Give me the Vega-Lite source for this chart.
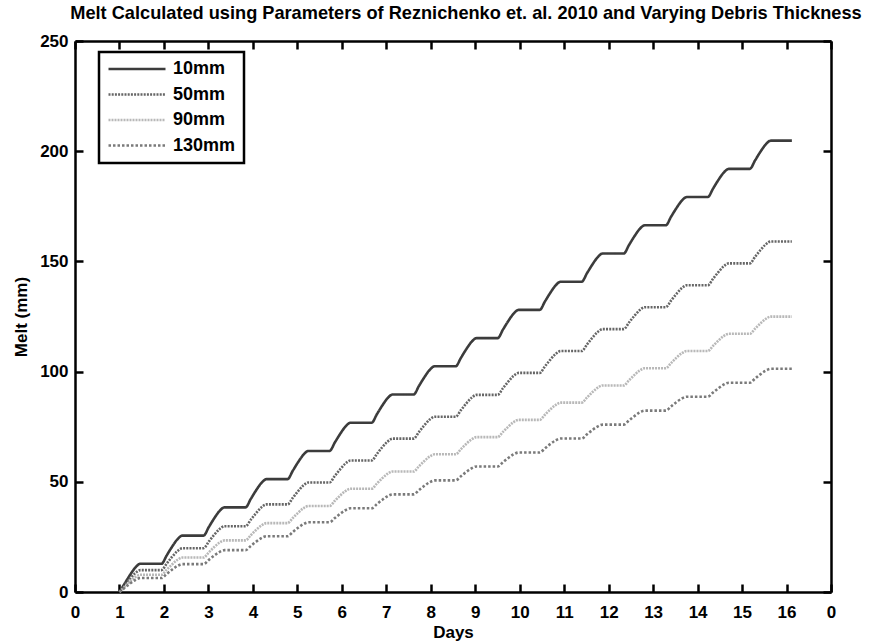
{
  "$schema": "https://vega.github.io/schema/vega-lite/v6.json",
  "width": 756,
  "height": 551,
  "autosize": {"type": "none"},
  "padding": {"left": 75, "top": 41, "right": 38, "bottom": 49},
  "background": "white",
  "title": {
    "text": "Melt Calculated using Parameters of Reznichenko et. al.  2010 and Varying Debris Thickness",
    "fontSize": 18.2,
    "font": "Liberation Sans",
    "fontWeight": "bold",
    "anchor": "middle",
    "dx": 13,
    "offset": 9,
    "color": "black"
  },
  "datasets": {
    "melt": [
      {"t": 1.000, "10mm": 0, "50mm": 0, "90mm": 0, "130mm": 0},
      {"t": 1.118, "10mm": 3.84, "50mm": 2.98, "90mm": 2.34, "130mm": 1.90},
      {"t": 1.236, "10mm": 7.68, "50mm": 5.96, "90mm": 4.69, "130mm": 3.80},
      {"t": 1.354, "10mm": 11.01, "50mm": 8.55, "90mm": 6.72, "130mm": 5.44},
      {"t": 1.473, "10mm": 12.8, "50mm": 9.94, "90mm": 7.81, "130mm": 6.33},
      {"t": 1.945, "10mm": 12.8, "50mm": 9.94, "90mm": 7.81, "130mm": 6.33},
      {"t": 2.063, "10mm": 16.64, "50mm": 12.92, "90mm": 10.15, "130mm": 8.23},
      {"t": 2.181, "10mm": 20.48, "50mm": 15.90, "90mm": 12.50, "130mm": 10.13},
      {"t": 2.299, "10mm": 23.81, "50mm": 18.49, "90mm": 14.53, "130mm": 11.77},
      {"t": 2.418, "10mm": 25.6, "50mm": 19.88, "90mm": 15.62, "130mm": 12.66},
      {"t": 2.890, "10mm": 25.6, "50mm": 19.88, "90mm": 15.62, "130mm": 12.66},
      {"t": 3.008, "10mm": 29.44, "50mm": 22.86, "90mm": 17.96, "130mm": 14.56},
      {"t": 3.126, "10mm": 33.28, "50mm": 25.84, "90mm": 20.31, "130mm": 16.46},
      {"t": 3.244, "10mm": 36.61, "50mm": 28.43, "90mm": 22.34, "130mm": 18.10},
      {"t": 3.363, "10mm": 38.4, "50mm": 29.82, "90mm": 23.43, "130mm": 18.99},
      {"t": 3.835, "10mm": 38.4, "50mm": 29.82, "90mm": 23.43, "130mm": 18.99},
      {"t": 3.953, "10mm": 42.24, "50mm": 32.80, "90mm": 25.77, "130mm": 20.89},
      {"t": 4.071, "10mm": 46.08, "50mm": 35.78, "90mm": 28.12, "130mm": 22.79},
      {"t": 4.189, "10mm": 49.41, "50mm": 38.37, "90mm": 30.15, "130mm": 24.43},
      {"t": 4.308, "10mm": 51.2, "50mm": 39.76, "90mm": 31.24, "130mm": 25.32},
      {"t": 4.780, "10mm": 51.2, "50mm": 39.76, "90mm": 31.24, "130mm": 25.32},
      {"t": 4.898, "10mm": 55.04, "50mm": 42.74, "90mm": 33.58, "130mm": 27.22},
      {"t": 5.016, "10mm": 58.88, "50mm": 45.72, "90mm": 35.93, "130mm": 29.12},
      {"t": 5.134, "10mm": 62.21, "50mm": 48.31, "90mm": 37.96, "130mm": 30.76},
      {"t": 5.253, "10mm": 64.0, "50mm": 49.70, "90mm": 39.05, "130mm": 31.65},
      {"t": 5.725, "10mm": 64.0, "50mm": 49.70, "90mm": 39.05, "130mm": 31.65},
      {"t": 5.843, "10mm": 67.84, "50mm": 52.68, "90mm": 41.39, "130mm": 33.55},
      {"t": 5.961, "10mm": 71.68, "50mm": 55.66, "90mm": 43.74, "130mm": 35.45},
      {"t": 6.079, "10mm": 75.01, "50mm": 58.25, "90mm": 45.77, "130mm": 37.09},
      {"t": 6.198, "10mm": 76.8, "50mm": 59.64, "90mm": 46.86, "130mm": 37.98},
      {"t": 6.670, "10mm": 76.8, "50mm": 59.64, "90mm": 46.86, "130mm": 37.98},
      {"t": 6.788, "10mm": 80.64, "50mm": 62.62, "90mm": 49.20, "130mm": 39.88},
      {"t": 6.906, "10mm": 84.48, "50mm": 65.60, "90mm": 51.55, "130mm": 41.78},
      {"t": 7.024, "10mm": 87.81, "50mm": 68.19, "90mm": 53.58, "130mm": 43.42},
      {"t": 7.143, "10mm": 89.6, "50mm": 69.58, "90mm": 54.67, "130mm": 44.31},
      {"t": 7.615, "10mm": 89.6, "50mm": 69.58, "90mm": 54.67, "130mm": 44.31},
      {"t": 7.733, "10mm": 93.44, "50mm": 72.56, "90mm": 57.01, "130mm": 46.21},
      {"t": 7.851, "10mm": 97.28, "50mm": 75.54, "90mm": 59.36, "130mm": 48.11},
      {"t": 7.969, "10mm": 100.61, "50mm": 78.13, "90mm": 61.39, "130mm": 49.75},
      {"t": 8.088, "10mm": 102.4, "50mm": 79.52, "90mm": 62.48, "130mm": 50.64},
      {"t": 8.560, "10mm": 102.4, "50mm": 79.52, "90mm": 62.48, "130mm": 50.64},
      {"t": 8.678, "10mm": 106.24, "50mm": 82.50, "90mm": 64.82, "130mm": 52.54},
      {"t": 8.796, "10mm": 110.08, "50mm": 85.48, "90mm": 67.17, "130mm": 54.44},
      {"t": 8.914, "10mm": 113.41, "50mm": 88.07, "90mm": 69.20, "130mm": 56.08},
      {"t": 9.033, "10mm": 115.2, "50mm": 89.46, "90mm": 70.29, "130mm": 56.97},
      {"t": 9.505, "10mm": 115.2, "50mm": 89.46, "90mm": 70.29, "130mm": 56.97},
      {"t": 9.623, "10mm": 119.04, "50mm": 92.44, "90mm": 72.63, "130mm": 58.87},
      {"t": 9.741, "10mm": 122.88, "50mm": 95.42, "90mm": 74.98, "130mm": 60.77},
      {"t": 9.859, "10mm": 126.21, "50mm": 98.01, "90mm": 77.01, "130mm": 62.41},
      {"t": 9.978, "10mm": 128.0, "50mm": 99.40, "90mm": 78.10, "130mm": 63.30},
      {"t": 10.450, "10mm": 128.0, "50mm": 99.40, "90mm": 78.10, "130mm": 63.30},
      {"t": 10.568, "10mm": 131.84, "50mm": 102.38, "90mm": 80.44, "130mm": 65.20},
      {"t": 10.686, "10mm": 135.68, "50mm": 105.36, "90mm": 82.79, "130mm": 67.10},
      {"t": 10.804, "10mm": 139.01, "50mm": 107.95, "90mm": 84.82, "130mm": 68.74},
      {"t": 10.923, "10mm": 140.8, "50mm": 109.34, "90mm": 85.91, "130mm": 69.63},
      {"t": 11.395, "10mm": 140.8, "50mm": 109.34, "90mm": 85.91, "130mm": 69.63},
      {"t": 11.513, "10mm": 144.64, "50mm": 112.32, "90mm": 88.25, "130mm": 71.53},
      {"t": 11.631, "10mm": 148.48, "50mm": 115.30, "90mm": 90.60, "130mm": 73.43},
      {"t": 11.749, "10mm": 151.81, "50mm": 117.89, "90mm": 92.63, "130mm": 75.07},
      {"t": 11.868, "10mm": 153.6, "50mm": 119.28, "90mm": 93.72, "130mm": 75.96},
      {"t": 12.340, "10mm": 153.6, "50mm": 119.28, "90mm": 93.72, "130mm": 75.96},
      {"t": 12.458, "10mm": 157.44, "50mm": 122.26, "90mm": 96.06, "130mm": 77.86},
      {"t": 12.576, "10mm": 161.28, "50mm": 125.24, "90mm": 98.41, "130mm": 79.76},
      {"t": 12.694, "10mm": 164.61, "50mm": 127.83, "90mm": 100.44, "130mm": 81.40},
      {"t": 12.813, "10mm": 166.4, "50mm": 129.22, "90mm": 101.53, "130mm": 82.29},
      {"t": 13.285, "10mm": 166.4, "50mm": 129.22, "90mm": 101.53, "130mm": 82.29},
      {"t": 13.403, "10mm": 170.24, "50mm": 132.20, "90mm": 103.87, "130mm": 84.19},
      {"t": 13.521, "10mm": 174.08, "50mm": 135.18, "90mm": 106.22, "130mm": 86.09},
      {"t": 13.639, "10mm": 177.41, "50mm": 137.77, "90mm": 108.25, "130mm": 87.73},
      {"t": 13.758, "10mm": 179.2, "50mm": 139.16, "90mm": 109.34, "130mm": 88.62},
      {"t": 14.230, "10mm": 179.2, "50mm": 139.16, "90mm": 109.34, "130mm": 88.62},
      {"t": 14.348, "10mm": 183.04, "50mm": 142.14, "90mm": 111.68, "130mm": 90.52},
      {"t": 14.466, "10mm": 186.88, "50mm": 145.12, "90mm": 114.03, "130mm": 92.42},
      {"t": 14.584, "10mm": 190.21, "50mm": 147.71, "90mm": 116.06, "130mm": 94.06},
      {"t": 14.703, "10mm": 192.0, "50mm": 149.10, "90mm": 117.15, "130mm": 94.95},
      {"t": 15.175, "10mm": 192.0, "50mm": 149.10, "90mm": 117.15, "130mm": 94.95},
      {"t": 15.293, "10mm": 195.84, "50mm": 152.08, "90mm": 119.49, "130mm": 96.85},
      {"t": 15.411, "10mm": 199.68, "50mm": 155.06, "90mm": 121.84, "130mm": 98.75},
      {"t": 15.529, "10mm": 203.01, "50mm": 157.65, "90mm": 123.87, "130mm": 100.39},
      {"t": 15.648, "10mm": 204.8, "50mm": 159.04, "90mm": 124.96, "130mm": 101.28},
      {"t": 16.120, "10mm": 204.8, "50mm": 159.04, "90mm": 124.96, "130mm": 101.28}
    ]
  },
  "data": {"name": "melt"},
  "transform": [{"fold": ["10mm", "50mm", "90mm", "130mm"], "as": ["Debris", "Melt"]}],
  "layer": [
    {
      "mark": {"type": "line", "interpolate": "monotone", "strokeWidth": 2.6},
      "encoding": {
        "x": {
          "field": "t", "type": "quantitative",
          "scale": {"domain": [0, 17], "nice": false, "zero": false},
          "axis": {
            "orient": "bottom", "title": "Days",
            "values": [0,1,2,3,4,5,6,7,8,9,10,11,12,13,14,15,16,17],
            "labelExpr": "datum.value == 17 ? '0' : datum.label",
            "tickSize": -8, "labelPadding": 20, "titlePadding": 4, "labelFlush": false
          }
        },
        "y": {
          "field": "Melt", "type": "quantitative",
          "scale": {"domain": [0, 250], "nice": false},
          "axis": {
            "orient": "left", "title": "Melt (mm)",
            "values": [0, 50, 100, 150, 200, 250],
            "tickSize": -8, "labelPadding": 15, "titlePadding": 9, "labelFlush": false
          }
        },
        "color": {
          "field": "Debris", "type": "nominal",
          "scale": {"domain": ["10mm", "50mm", "90mm", "130mm"], "range": ["#3c3c3c", "#666666", "#b8b8b8", "#7a7a7a"]},
          "legend": {"title": null}
        },
        "strokeDash": {
          "field": "Debris", "type": "nominal",
          "scale": {"domain": ["10mm", "50mm", "90mm", "130mm"], "range": [[1, 0], [2, 1.2], [2, 1], [2.5, 2]]},
          "legend": {"title": null}
        }
      }
    },
    {
      "mark": {"type": "line", "opacity": 0},
      "encoding": {
        "x": {
          "field": "t", "type": "quantitative",
          "axis": {"orient": "top", "title": null, "labels": false,
            "values": [0,1,2,3,4,5,6,7,8,9,10,11,12,13,14,15,16,17], "tickSize": -8}
        },
        "y": {
          "field": "Melt", "type": "quantitative",
          "axis": {"orient": "right", "title": null, "labels": false,
            "values": [0, 50, 100, 150, 200, 250], "tickSize": -8}
        },
        "detail": {"field": "Debris"}
      }
    }
  ],
  "resolve": {"axis": {"x": "independent", "y": "independent"}},
  "config": {
    "view": {"stroke": null},
    "axis": {
      "grid": false,
      "domainColor": "black", "domainWidth": 2.5,
      "tickColor": "black", "tickWidth": 2.5,
      "labelFont": "Liberation Sans", "labelFontWeight": "bold", "labelFontSize": 17, "labelColor": "black",
      "titleFont": "Liberation Sans", "titleFontWeight": "bold", "titleFontSize": 17, "titleColor": "black"
    },
    "legend": {
      "orient": "none", "legendX": 24, "legendY": 11,
      "strokeColor": "black", "strokeWidth": 2.5, "fillColor": "white",
      "padding": 8,
      "symbolType": "stroke", "symbolSize": 3249, "symbolStrokeWidth": 2.6,
      "clipHeight": 18,
      "labelFont": "Liberation Sans", "labelFontWeight": "bold", "labelFontSize": 18, "labelColor": "black",
      "labelOffset": 6, "rowPadding": 7.5
    }
  }
}
